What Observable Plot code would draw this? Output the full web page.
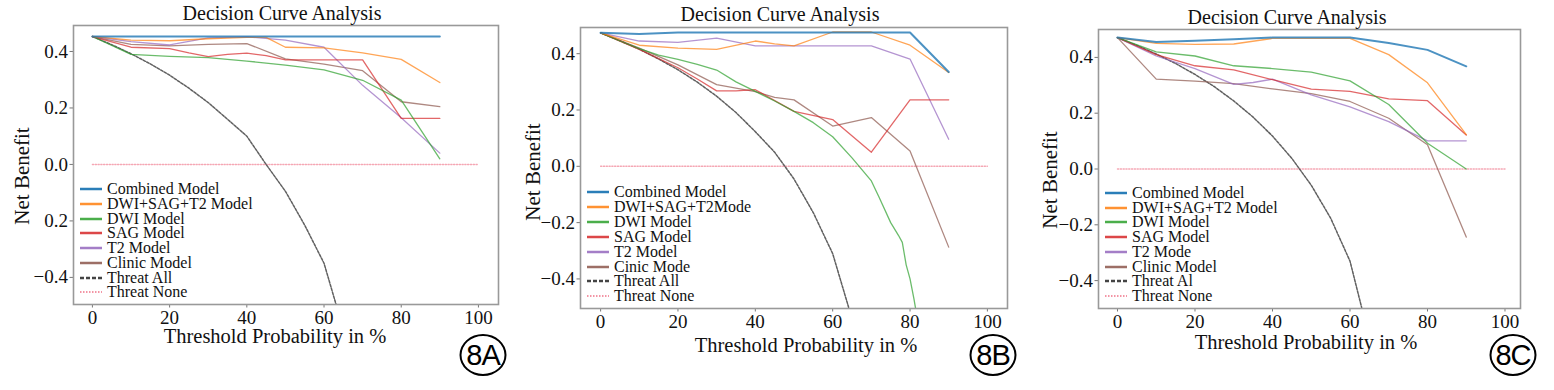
<!DOCTYPE html>
<html>
<head>
<meta charset="utf-8">
<script src="https://cdn.jsdelivr.net/npm/d3@7"></script>
<script src="https://cdn.jsdelivr.net/npm/@observablehq/plot@0.6"></script>
<style>
  html, body { margin: 0; padding: 0; background: #fff; }
  #root { position: relative; width: 1554px; height: 390px; overflow: hidden; font-family: "Liberation Serif", "Times New Roman", serif; }
  #root svg, #root svg text { font-family: "Liberation Serif", "Times New Roman", serif !important; }
  .abs { position: absolute; white-space: nowrap; color: #111; font-family: "Liberation Serif", "Times New Roman", serif; }
  .title { font-size: 20px; transform: translate(-50%, 0); }
  .xlabel { font-size: 20.5px; transform: translate(-50%, 0); }
  .ylabel { font-size: 21px; transform: translate(-50%, -50%) rotate(-90deg); }
  .badge { font-family: "Liberation Sans", Arial, sans-serif !important; font-size: 29px; border: 2.5px solid #000; border-radius: 50%;
           width: 43px; height: 38px; line-height: 38px; text-align: center; transform: translate(-50%, -50%); color: #000; letter-spacing: -1px; }
  .leg { font-size: 16px; height: 14px; line-height: 14px; transform: translate(0, -50%); display: flex; align-items: center; overflow: visible; }
  .leg svg { margin-right: 5px; flex: none; }
  .leg span { display: inline-block; height: 14px; line-height: 14px; overflow: visible; }
</style>
</head>
<body>
<div id="root"></div>
<script>
// ---------------- data ----------------
const X10 = [0, 10, 20, 30, 40, 50, 60, 70, 80, 90];
const THRESHOLD_TICKS = [0, 20, 40, 60, 80, 100];
const BENEFIT_TICKS = [-0.4, -0.2, 0, 0.2, 0.4];
const NONE_X = [0, 100];
const NONE_Y = [0, 0];

// Panel 8A
const A_combined = [0.453, 0.453, 0.453, 0.453, 0.453, 0.453, 0.453, 0.453, 0.453, 0.453];
const A_dst_x = [0, 10, 20, 30, 40, 45, 50, 60, 70, 80, 90];
const A_dst = [0.453, 0.44, 0.438, 0.445, 0.45, 0.45, 0.415, 0.413, 0.395, 0.372, 0.29];
const A_dwi = [0.453, 0.39, 0.383, 0.378, 0.366, 0.352, 0.335, 0.298, 0.228, 0.02];
const A_sag_x = [0, 10, 20, 25, 30, 35, 40, 45, 50, 60, 70, 80, 90];
const A_sag = [0.453, 0.415, 0.41, 0.395, 0.382, 0.39, 0.394, 0.385, 0.37, 0.37, 0.37, 0.163, 0.163];
const A_t2 = [0.453, 0.435, 0.423, 0.448, 0.452, 0.44, 0.415, 0.28, 0.165, 0.04];
const A_clinic = [0.453, 0.425, 0.42, 0.425, 0.428, 0.374, 0.355, 0.332, 0.222, 0.205];
const A_all_x = [0, 5, 10, 15, 20, 25, 30, 35, 40, 45, 50, 55, 60, 63, 65];
const A_all = [0.453, 0.424, 0.392, 0.356, 0.316, 0.27, 0.219, 0.16, 0.1, 0.0, -0.095, -0.215, -0.35, -0.49, -0.58];
const A_legend = ["Combined Model", "DWI+SAG+T2 Model", "DWI Model", "SAG Model", "T2 Model", "Clinic Model", "Threat All", "Threat None"];

// Panel 8B
const B_combined = [0.474, 0.47, 0.475, 0.475, 0.475, 0.475, 0.475, 0.475, 0.475, 0.335];
const B_dst_x = [0, 10, 20, 30, 40, 45, 50, 60, 70, 80, 90];
const B_dst = [0.474, 0.43, 0.42, 0.415, 0.445, 0.435, 0.428, 0.477, 0.477, 0.43, 0.333];
const B_dwi_x = [0, 5, 10, 15, 20, 25, 30, 35, 40, 45, 50, 55, 60, 65, 70, 72, 75, 77, 78, 79, 80, 81, 82];
const B_dwi = [0.474, 0.445, 0.418, 0.395, 0.38, 0.362, 0.342, 0.3, 0.266, 0.232, 0.195, 0.155, 0.105, 0.03, -0.052, -0.11, -0.2, -0.245, -0.27, -0.35, -0.4, -0.47, -0.55];
const B_sag_x = [0, 10, 20, 25, 30, 35, 40, 50, 60, 70, 80, 90];
const B_sag = [0.474, 0.415, 0.35, 0.31, 0.268, 0.268, 0.272, 0.195, 0.166, 0.05, 0.236, 0.236];
const B_t2 = [0.474, 0.445, 0.44, 0.455, 0.428, 0.428, 0.428, 0.428, 0.381, 0.096];
const B_clinic_x = [0, 10, 20, 30, 40, 45, 50, 60, 70, 80, 90];
const B_clinic = [0.474, 0.42, 0.36, 0.29, 0.265, 0.245, 0.236, 0.143, 0.173, 0.054, -0.287];
const B_all_x = [0, 5, 10, 15, 20, 25, 30, 35, 40, 45, 50, 55, 60, 64, 66];
const B_all = [0.474, 0.446, 0.416, 0.381, 0.343, 0.299, 0.249, 0.191, 0.123, 0.05, -0.045, -0.165, -0.31, -0.495, -0.59];
const B_legend = ["Combined Model", "DWI+SAG+T2Mode", "DWI Model", "SAG Model", "T2 Model", "Cinic Mode", "Threat All", "Threat None"];

// Panel 8C
const C_combined = [0.471, 0.455, 0.46, 0.465, 0.471, 0.471, 0.471, 0.452, 0.427, 0.368];
const C_dst = [0.471, 0.45, 0.447, 0.448, 0.468, 0.468, 0.468, 0.41, 0.309, 0.123];
const C_dwi = [0.471, 0.42, 0.405, 0.37, 0.36, 0.347, 0.316, 0.231, 0.092, 0.0];
const C_sag = [0.471, 0.41, 0.37, 0.355, 0.32, 0.286, 0.278, 0.251, 0.245, 0.122];
const C_t2_x = [0, 10, 20, 30, 35, 40, 50, 60, 70, 80, 90];
const C_t2 = [0.471, 0.405, 0.36, 0.303, 0.31, 0.322, 0.266, 0.223, 0.17, 0.101, 0.101];
const C_clinic = [0.471, 0.322, 0.315, 0.306, 0.287, 0.27, 0.242, 0.182, 0.087, -0.244];
const C_all_x = [0, 5, 10, 15, 20, 25, 30, 35, 40, 45, 50, 55, 60, 63, 65];
const C_all = [0.471, 0.443, 0.412, 0.378, 0.339, 0.295, 0.244, 0.186, 0.118, 0.038, -0.058, -0.176, -0.33, -0.496, -0.58];
const C_legend = ["Combined Model", "DWI+SAG+T2 Model", "DWI Model", "SAG Model", "T2 Mode", "Clinic Model", "Threat Al", "Threat None"];

// ---------------- styling ----------------
const STYLES = [
  {stroke: "#1f77b4", width: 2.0, opacity: 0.8, legW: 2.5},
  {stroke: "#ff7f0e", width: 1.3, opacity: 0.7, legW: 2.5},
  {stroke: "#2ca02c", width: 1.3, opacity: 0.7, legW: 2.5},
  {stroke: "#d62728", width: 1.3, opacity: 0.7, legW: 2.5},
  {stroke: "#9467bd", width: 1.3, opacity: 0.7, legW: 2.5},
  {stroke: "#8c564b", width: 1.3, opacity: 0.7, legW: 2.5},
  {stroke: "#444", width: 1.5, opacity: 0.85, dash: "2.5,1.5", legW: 2.5},
  {stroke: "#f2899b", width: 1.4, opacity: 0.75, dash: "1.2,1.6", legW: 2}
];

const zip = (xs, ys) => xs.map((x, i) => ({x, y: ys[i]}));

const panels = [
  {
    id: "8A", left: 0, width: 515, frame: {l: 73, r: 498, t: 25, b: 304},
    xDomain: [-4.9, 105.2], yDomain: [-0.496, 0.492],
    series: [zip(X10, A_combined), zip(A_dst_x, A_dst), zip(X10, A_dwi), zip(A_sag_x, A_sag), zip(X10, A_t2), zip(X10, A_clinic), zip(A_all_x, A_all), zip(NONE_X, NONE_Y)],
    legend: A_legend, legX: 80, legY0: 189.3, legDy: 14.7,
    title: {x: 282, y: 2}, xlabel: {x: 275, y: 325}, ylabel: {x: 22, y: 176}, badge: {x: 483, y: 355},
    tickFormat: d => d === -0.2 ? "0.2" : d3.format(".1f")(d)
  },
  {
    id: "8B", left: 515, width: 520, frame: {l: 580, r: 1007, t: 27, b: 308},
    xDomain: [-5.2, 105.2], yDomain: [-0.505, 0.493],
    series: [zip(X10, B_combined), zip(B_dst_x, B_dst), zip(B_dwi_x, B_dwi), zip(B_sag_x, B_sag), zip(X10, B_t2), zip(B_clinic_x, B_clinic), zip(B_all_x, B_all), zip(NONE_X, NONE_Y)],
    legend: B_legend, legX: 587, legY0: 192, legDy: 14.9,
    title: {x: 780, y: 3}, xlabel: {x: 806, y: 334}, ylabel: {x: 533, y: 172}, badge: {x: 993, y: 355},
    tickFormat: d => d3.format(".1f")(d)
  },
  {
    id: "8C", left: 1035, width: 519, frame: {l: 1098, r: 1520, t: 29, b: 308},
    xDomain: [-4.9, 104], yDomain: [-0.5, 0.5],
    series: [zip(X10, C_combined), zip(X10, C_dst), zip(X10, C_dwi), zip(X10, C_sag), zip(C_t2_x, C_t2), zip(X10, C_clinic), zip(C_all_x, C_all), zip(NONE_X, NONE_Y)],
    legend: C_legend, legX: 1105, legY0: 193, legDy: 14.7,
    title: {x: 1287, y: 6}, xlabel: {x: 1306, y: 331}, ylabel: {x: 1050, y: 180}, badge: {x: 1513, y: 355},
    tickFormat: d => d3.format(".1f")(d)
  }
];

const root = document.getElementById("root");
function addDiv(cls, text, x, y) {
  const d = document.createElement("div");
  d.className = "abs " + cls;
  d.textContent = text;
  d.style.left = x + "px";
  d.style.top = y + "px";
  root.appendChild(d);
  return d;
}

for (const p of panels) {
  const H = 390;
  const marks = [
    Plot.axisX({ticks: THRESHOLD_TICKS, tickSize: 3.5, tickPadding: 2, fontSize: 19, label: null, stroke: "#777"}),
    Plot.axisY({ticks: BENEFIT_TICKS, tickFormat: p.tickFormat, tickSize: 3.5, tickPadding: 2, fontSize: 19, label: null, stroke: "#777"})
  ];
  const order = [7, 6, 5, 4, 3, 2, 1, 0];
  for (const i of order) {
    const s = STYLES[i];
    marks.push(Plot.line(p.series[i], {
      x: "x", y: "y", stroke: s.stroke, strokeWidth: s.width, strokeOpacity: s.opacity,
      strokeDasharray: s.dash, clip: true, curve: "linear"
    }));
  }
  marks.push(Plot.frame({stroke: "#999", strokeWidth: 1.6}));

  const chart = Plot.plot({
    width: p.width, height: H,
    marginLeft: p.frame.l - p.left, marginRight: p.left + p.width - p.frame.r,
    marginTop: p.frame.t, marginBottom: H - p.frame.b,
    x: {domain: p.xDomain},
    y: {domain: p.yDomain},
    style: {fontFamily: "'Liberation Serif', 'Times New Roman', serif", fontSize: "19px", color: "#111", background: "transparent", overflow: "visible"},
    marks
  });
  const wrap = document.createElement("div");
  wrap.style.position = "absolute";
  wrap.style.left = p.left + "px";
  wrap.style.top = "0px";
  wrap.appendChild(chart);
  root.appendChild(wrap);

  addDiv("title", "Decision Curve Analysis", p.title.x, p.title.y);
  addDiv("xlabel", "Threshold Probability in %", p.xlabel.x, p.xlabel.y);
  addDiv("ylabel", "Net Benefit", p.ylabel.x, p.ylabel.y);
  addDiv("badge", p.id, p.badge.x, p.badge.y);

  p.legend.forEach((label, i) => {
    const s = STYLES[i];
    const d = document.createElement("div");
    d.className = "abs leg";
    d.style.left = p.legX + "px";
    d.style.top = (p.legY0 + i * p.legDy) + "px";
    const ns = "http://www.w3.org/2000/svg";
    const sv = document.createElementNS(ns, "svg");
    sv.setAttribute("width", 22); sv.setAttribute("height", 6);
    const ln = document.createElementNS(ns, "line");
    ln.setAttribute("x1", 0); ln.setAttribute("x2", 22); ln.setAttribute("y1", 3); ln.setAttribute("y2", 3);
    ln.setAttribute("stroke", s.stroke); ln.setAttribute("stroke-width", s.legW);
    ln.setAttribute("stroke-opacity", Math.min(1, s.opacity + 0.15));
    if (s.dash) ln.setAttribute("stroke-dasharray", i === 6 ? "4,2" : "1.5,1.5");
    sv.appendChild(ln);
    d.appendChild(sv);
    const t = document.createElement("span");
    t.textContent = label;
    d.appendChild(t);
    root.appendChild(d);
  });
}
</script>
</body>
</html>
